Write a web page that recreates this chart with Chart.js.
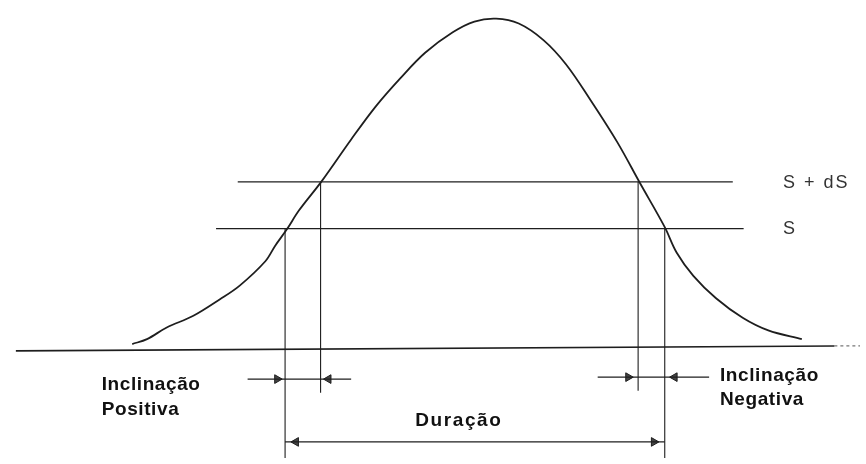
<!DOCTYPE html>
<html lang="pt">
<head>
  <meta charset="UTF-8">
  <title>Duração e inclinação</title>
  <script src="https://cdn.jsdelivr.net/npm/chart.js"></script>
  <style>
    body { margin: 0; background: #fff; }
  </style>
</head>
<body>
<canvas id="pulseChart" width="866" height="464"></canvas>

<script>
  // Curve (x across, y down)
  const curveX = [128, 143, 163, 190, 217, 237, 263, 273, 285, 297, 320, 350, 375, 400, 425, 453, 475, 497, 520, 545, 568, 593, 620, 643, 668, 680, 697, 720, 747, 773, 807];
  const curveY = [347, 342, 330, 318, 301, 287, 262, 246, 229, 210, 180, 137, 103, 74, 48, 27, 16, 13, 18, 35, 60, 97, 140, 182, 227, 253, 277, 300, 320, 333, 342];

  // Threshold levels
  const levelNames = ['S + dS', 'S'];
  const levelY = [180.5, 228.5];
  const levelStart = [235, 213];
  const levelEnd = [737, 748];

  // Crossing verticals
  const crossX = [283, 319, 641, 668];
  const crossTop = [228.5, 180.5, 180.5, 228.5];
  const crossBottom = [464, 397, 395, 464];

  // Baseline
  const baseX = [10, 840];
  const baseY = [354, 349];

  // Dimension arrows: start, end and y
  const dimStart = [245, 600, 283];
  const dimEnd = [350, 713, 668];
  const dimY = [383, 381, 447.5];
  const headX = [275, 327, 631, 678, 294, 657];
  const headY = [383, 383, 381, 381, 447.5, 447.5];
  const headRot = [90, -90, 90, -90, -90, 90];

  const ink = '#1e1e1e';
  const pts = (xs, ys) => xs.map((x, i) => ({ x, y: ys[i] }));
  const seg = (x1, y1, x2, y2) => [{ x: x1, y: y1 }, { x: x2, y: y2 }];

  const lineSet = (data, width, extra) => Object.assign({
    data, showLine: true, borderColor: ink, borderWidth: width,
    pointRadius: 0, fill: false, clip: false
  }, extra || {});

  const datasets = [];
  datasets.push(lineSet(pts(curveX, curveY), 1.8, { tension: 0.35 }));
  datasets.push(lineSet(pts(baseX, baseY), 1.6));
  datasets.push(lineSet(seg(840, 349, 866, 349), 1.2, { borderDash: [3, 3], borderColor: '#777' }));
  levelY.forEach((y, i) => datasets.push(lineSet(seg(levelStart[i], y, levelEnd[i], y), 1.4)));
  crossX.forEach((x, i) => datasets.push(lineSet(seg(x, crossTop[i], x, crossBottom[i]), 1.1)));
  dimY.forEach((y, i) => datasets.push(lineSet(seg(dimStart[i], y, dimEnd[i], y), 1.2)));
  datasets.push({
    data: pts(headX, headY), showLine: false, pointStyle: 'triangle',
    pointRadius: 5, pointRotation: headRot, backgroundColor: '#444',
    borderColor: ink, borderWidth: 1, clip: false
  });

  // Text labels
  const labelText = [levelNames[0], levelNames[1], 'Inclinação', 'Positiva', 'Inclinação', 'Negativa', 'Duração'];
  const labelX = [788, 788, 97, 97, 724, 724, 415];
  const labelY = [182, 229, 389, 414, 380, 404, 426];
  const labelBold = [false, false, true, true, true, true, true];
  const labelSpacing = ['2px', '2px', '0.6px', '0.6px', '0.6px', '0.6px', '1.6px'];

  const textPlugin = {
    id: 'diagramText',
    afterDatasetsDraw(chart) {
      const { ctx, scales: { x, y } } = chart;
      ctx.save();
      ctx.textBaseline = 'middle';
      ctx.textAlign = 'left';
      labelText.forEach((t, i) => {
        if (labelBold[i]) {
          ctx.font = 'bold 19px "Liberation Sans", Arial, sans-serif';
          ctx.fillStyle = '#111';
        } else {
          ctx.font = '18px "Liberation Sans", Arial, sans-serif';
          ctx.fillStyle = '#333';
        }
        ctx.letterSpacing = labelSpacing[i];
        ctx.fillText(t, x.getPixelForValue(labelX[i]), y.getPixelForValue(labelY[i]));
      });
      ctx.restore();
    }
  };

  new Chart(document.getElementById('pulseChart').getContext('2d'), {
    type: 'scatter',
    data: { datasets },
    options: {
      responsive: false,
      animation: false,
      layout: { padding: 0 },
      plugins: { legend: { display: false }, tooltip: { enabled: false } },
      scales: {
        x: { type: 'linear', min: 0, max: 866, display: false },
        y: { type: 'linear', min: 0, max: 464, reverse: true, display: false }
      }
    },
    plugins: [textPlugin]
  });
</script>
</body>
</html>
